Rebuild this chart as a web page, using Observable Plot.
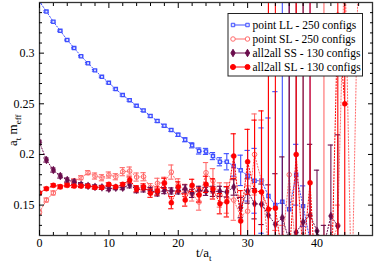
<!DOCTYPE html>
<html><head><meta charset="utf-8">
<script src="https://cdn.jsdelivr.net/npm/d3@7"></script>
<script src="https://cdn.jsdelivr.net/npm/@observablehq/plot@0.6"></script>
<style>body{margin:0;background:#fff}</style>
</head><body><div id="chart"></div>
<script>
// ---- data (index = t/a_t) ----
const llVal = [0.351,0.341,0.331,0.322,0.313,0.305,0.297,0.290,0.283,0.2766,0.2707,0.2645,0.2586,0.2536,0.248,0.2435,0.238,0.233,0.2283,0.2241,0.2194,0.2145,0.209,0.2034,0.203,0.1984,0.1928,0.1928,0.1886,0.1843,0.179,0.174,0.1742,0.159,0.150,0.1533,0.146,0.180,0.149,0.115,0.10];
const llErr = [0.0008,0.0008,0.0008,0.0008,0.0008,0.0008,0.0008,0.0008,0.0008,0.0008,0.001,0.001,0.001,0.001,0.001,0.001,0.0012,0.0012,0.0012,0.0012,0.0015,0.002,0.0025,0.003,0.003,0.0035,0.004,0.008,0.01,0.015,0.025,0.032,0.052,0.077,0.112,0.3,0.3,0.03,0.02,0.3,0.02];
const slVal = [0.143,0.155,0.162,0.168,0.1705,0.174,0.177,0.182,0.1787,0.177,0.1797,0.178,0.183,0.1836,0.1777,0.178,0.1672,0.1715,0.1725,0.1826,0.170,0.1645,0.161,0.153,0.182,0.174,0.160,0.157,0.155,0.139,0.144,0.200,0.174,0.11,0.105,0.11,0.180,0.10,0.11,0.09,0.10,0.10,0.11,0.13,0.40,0.05,0.40];
const slErr = [0.002,0.002,0.002,0.002,0.002,0.002,0.002,0.002,0.003,0.003,0.003,0.003,0.004,0.004,0.004,0.004,0.004,0.005,0.005,0.007,0.006,0.006,0.007,0.008,0.01,0.012,0.012,0.015,0.02,0.02,0.025,0.04,0.06,0.3,0.02,0.02,0.3,0.02,0.3,0.02,0.02,0.3,0.02,0.02,0.02,0.02,0.02];
const ssVal = [0.212,0.1945,0.1846,0.1787,0.1748,0.1728,0.1702,0.169,0.168,0.1675,0.1662,0.1672,0.1672,0.170,0.1652,0.166,0.1645,0.162,0.1643,0.164,0.164,0.166,0.1616,0.1646,0.1636,0.1636,0.1636,0.163,0.1678,0.1475,0.1639,0.1514,0.1508,0.140,0.131,0.1376,0.115,0.123,0.1332,0.140,0.1245,0.11,0.1393,0.1294];
const ssErr = [0.002,0.002,0.002,0.002,0.002,0.002,0.002,0.002,0.002,0.002,0.002,0.002,0.002,0.003,0.003,0.003,0.003,0.003,0.003,0.003,0.003,0.004,0.004,0.004,0.004,0.005,0.005,0.005,0.008,0.01,0.012,0.015,0.02,0.03,0.05,0.06,0.3,0.3,0.3,0.07,0.06,0.02,0.07,0.09];
const saVal = [0.162,0.1662,0.1695,0.1682,0.1695,0.1688,0.1688,0.1688,0.1675,0.1675,0.1705,0.168,0.1705,0.1748,0.1662,0.168,0.1617,0.164,0.1715,0.1524,0.168,0.155,0.1695,0.160,0.1705,0.166,0.1514,0.1533,0.1984,0.1343,0.1928,0.1639,0.163,0.146,0.147,0.10,0.10,0.200,0.10,0.172,0.05,0.10,0.05,0.3375,0.25];
const saErr = [0.0015,0.0015,0.0015,0.0015,0.0015,0.0015,0.0015,0.0015,0.0015,0.0015,0.0015,0.0015,0.0015,0.003,0.003,0.003,0.004,0.004,0.005,0.006,0.005,0.006,0.006,0.007,0.008,0.01,0.01,0.015,0.022,0.03,0.032,0.07,0.08,0.3,0.3,0.02,0.02,0.3,0.02,0.3,0.02,0.02,0.02,0.3,0.3];

const seriesNames = ["point LL - 250 configs","point SL - 250 configs","all2all SS - 130 configs","all2all SL - 130 configs"];
const seriesColors = ["#3f4fff","#ff6a6a","#6a0c4c","#ff0000"];
const xMajor = [0,10,20,30,40];
const xMinor = [2,4,6,8,12,14,16,18,22,24,26,28,32,34,36,38,42,44,46];
const yMajor = [0.15,0.2,0.25,0.3];
const yMinor = [0.13,0.14,0.16,0.17,0.18,0.19,0.21,0.22,0.23,0.24,0.26,0.27,0.28,0.29,0.31,0.32,0.33,0.34];

const rows = (vals, errs) => vals.map((v,i)=>({t:i, v, lo:v-errs[i], hi:v+errs[i]}));
const LL = rows(llVal, llErr), SL = rows(slVal, slErr), SS = rows(ssVal, ssErr), SA = rows(saVal, saErr);

function seriesMarks(data, color, symbol, r, fill, sw) {
  return [
    Plot.line(data, {x:"t", y:"v", stroke:color, strokeWidth:1, strokeDasharray:"1.2,1.8", clip:true}),
    Plot.ruleX(data, {x:"t", y1:"lo", y2:"hi", stroke:color, strokeWidth:1.1, clip:true}),
    Plot.ruleY(data, {y:"hi", x1:d=>d.t-0.38, x2:d=>d.t+0.38, stroke:color, strokeWidth:1.1, clip:true}),
    Plot.ruleY(data, {y:"lo", x1:d=>d.t-0.38, x2:d=>d.t+0.38, stroke:color, strokeWidth:1.1, clip:true}),
    Plot.dot(data, {x:"t", y:"v", symbol, r, stroke:color, fill, strokeWidth:sw, clip:true})
  ];
}
const noText = () => "";
const plot = Plot.plot({
  width: 374, height: 266,
  marginLeft: 39, marginRight: 2, marginTop: 2, marginBottom: 31,
  x: {domain:[0,48], axis:null},
  y: {domain:[0.12,0.35], axis:null},
  style: {fontFamily:"'Liberation Serif', serif", fontSize:"11px", background:"white", color:"black"},
  marks: [
    ...seriesMarks(LL, seriesColors[0], "square", 1.8, "#dfe3ff", 1.3),
    ...seriesMarks(SL, seriesColors[1], "circle", 2.3, "none", 1),
    ...seriesMarks(SS, seriesColors[2], "diamond", 2.4, seriesColors[2], 0.5),
    ...seriesMarks(SA, seriesColors[3], "circle", 2.5, seriesColors[3], 0.5),
    Plot.frame({stroke:"#333", strokeWidth:1.3}),
    Plot.axisX({ticks:xMajor, anchor:"bottom", tickSize:-5, tickFormat:noText, label:null}),
    Plot.axisX({ticks:xMajor, anchor:"top", tickSize:-5, tickFormat:noText, label:null}),
    Plot.axisX({ticks:xMinor, anchor:"bottom", tickSize:-3, tickFormat:noText, label:null}),
    Plot.axisX({ticks:xMinor, anchor:"top", tickSize:-3, tickFormat:noText, label:null}),
    Plot.axisY({ticks:yMajor, anchor:"left", tickSize:-5, tickFormat:noText, label:null}),
    Plot.axisY({ticks:yMajor, anchor:"right", tickSize:-5, tickFormat:noText, label:null}),
    Plot.axisY({ticks:yMinor, anchor:"left", tickSize:-3, tickFormat:noText, label:null}),
    Plot.axisY({ticks:yMinor, anchor:"right", tickSize:-3, tickFormat:noText, label:null}),
    Plot.axisX({ticks:xMajor, anchor:"bottom", tickSize:0, tickPadding:3, label:null, fontSize:12}),
    Plot.axisY({ticks:yMajor, anchor:"left", tickSize:0, tickPadding:5, tickFormat:d=>String(d), label:null, fontSize:12})
  ]
});
document.getElementById("chart").appendChild(plot);

// axis labels with subscripts and the legend
const svg = d3.select(plot);
const font = "'Liberation Serif', serif";
const xl = svg.append("text").attr("x",196).attr("y",257).attr("text-anchor","start").attr("font-family",font).attr("font-size",13).attr("fill","black");
xl.append("tspan").text("t/a");
xl.append("tspan").attr("font-size",9).attr("dy",4).text("t");
const yl = svg.append("text").attr("transform","translate(17,146) rotate(-90)").attr("text-anchor","start").attr("font-family",font).attr("font-size",13).attr("fill","black");
yl.append("tspan").text("a");
yl.append("tspan").attr("font-size",9).attr("dy",4).text("t");
yl.append("tspan").attr("dy",-4).text(" m");
yl.append("tspan").attr("font-size",9).attr("dy",4).text("eff");

const lg = svg.append("g").attr("text-anchor","start");
lg.append("rect").attr("x",228).attr("y",13.5).attr("width",134.5).attr("height",62.5)
  .style("fill","#ffffff").style("stroke","#222").style("stroke-width","1px");
const symbols = [d3.symbolSquare, d3.symbolCircle, d3.symbolDiamond, d3.symbolCircle];
const sizes = [12, 16, 16, 20];
const fills = ["#dfe3ff","white",seriesColors[2],seriesColors[3]];
seriesNames.forEach((name,i)=>{
  const y = 25 + i*14;
  lg.append("line").attr("x1",233).attr("x2",247.5).attr("y1",y).attr("y2",y).style("stroke",seriesColors[i]).style("stroke-width","1px");
  [233,247.5].forEach(x=>{
    lg.append("path").attr("d",d3.symbol(symbols[i], sizes[i])()).attr("transform",`translate(${x},${y})`)
      .style("fill",fills[i]).style("stroke",seriesColors[i]).style("stroke-width","1px");
  });
  lg.append("text").attr("x",252.5).attr("y",y+4).attr("text-anchor","start").attr("font-family",font).attr("font-size",11.5).style("fill","black").text(name);
});
</script></body></html>
